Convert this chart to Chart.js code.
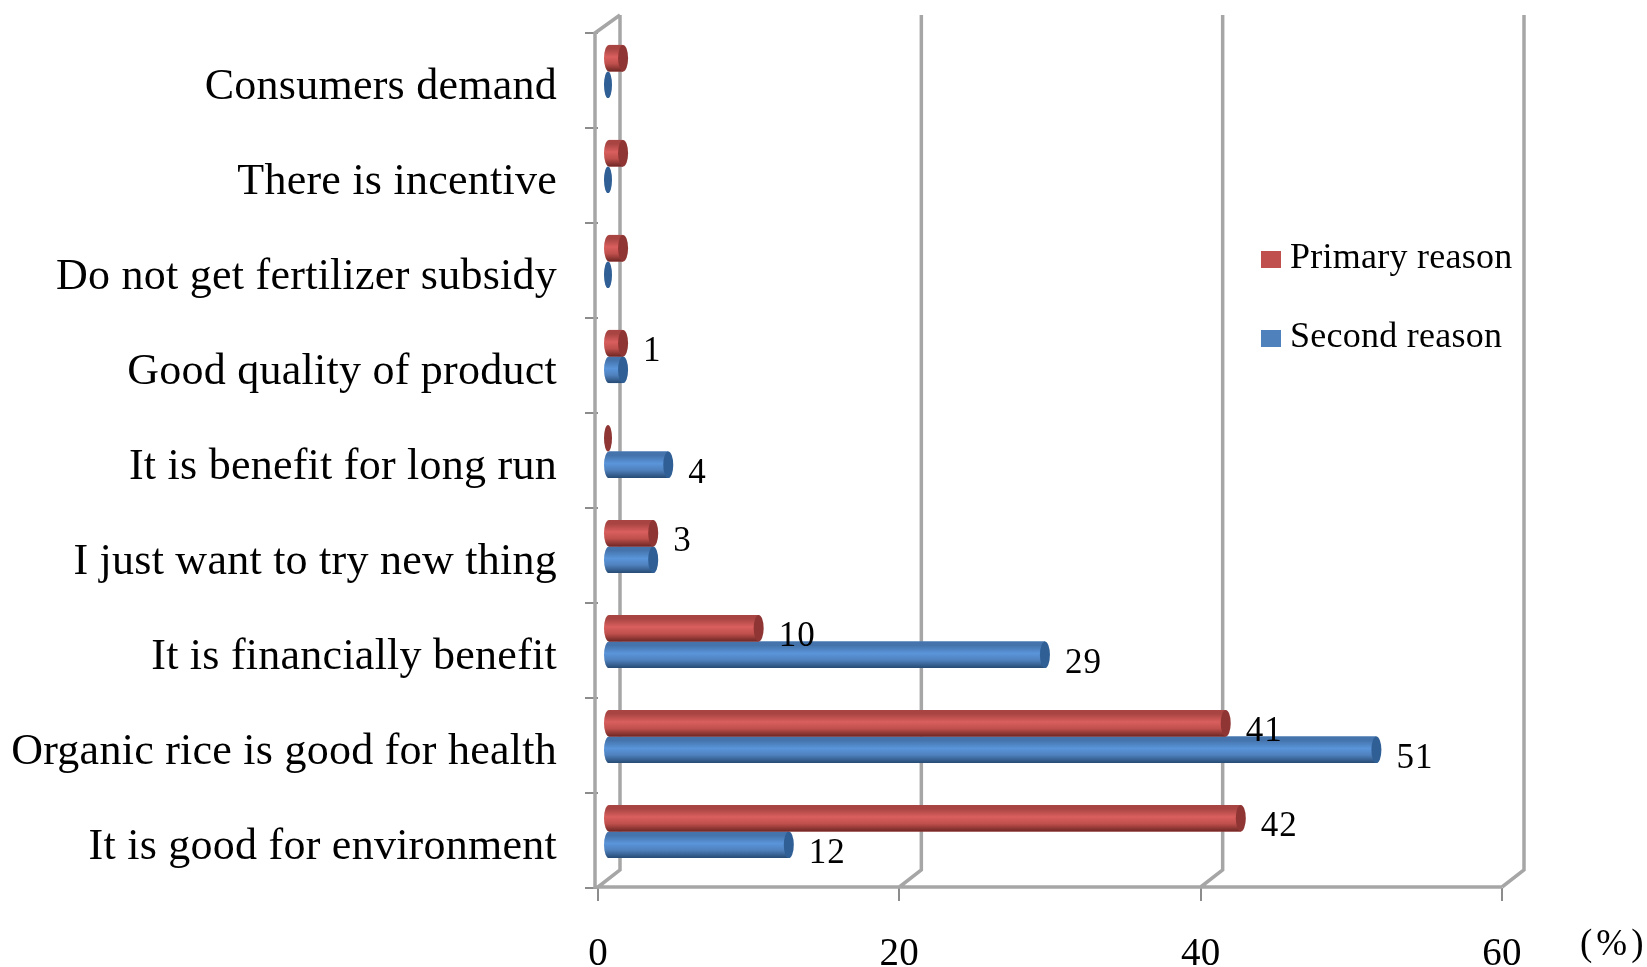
<!DOCTYPE html>
<html>
<head>
<meta charset="utf-8">
<style>
html, body { margin: 0; padding: 0; background: #fff; }
#wrap { position: relative; width: 1647px; height: 967px; }
</style>
<script src="https://cdn.jsdelivr.net/npm/chart.js@4"></script>
</head>
<body>
<div id="wrap"><canvas id="chart" width="1647" height="967"></canvas></div>
<script>
const categories = [
  'Consumers demand', 'There is incentive', 'Do not get fertilizer subsidy',
  'Good quality of product', 'It is benefit for long run', 'I just want to try new thing',
  'It is financially benefit', 'Organic rice is good for health', 'It is good for environment'
];
const primaryReason = [1, 1, 1, 1, 0, 3, 10, 41, 42];
const secondReason = [0, 0, 0, 1, 4, 3, 29, 51, 12];
// Which bars carry a printed value
const primaryLabelled = [false, false, false, true, false, true, true, true, true];
const secondLabelled = [false, false, false, false, true, false, true, true, true];
const xTicks = [0, 20, 40, 60];
const unitLabel = '(%)';

const WALL = '#a6a6a6';
const TICK = '#8c8c8c';
const SERIF = '"Liberation Serif", "Times New Roman", serif';
// Oblique offset of the 3-D floor: bars sit half way back, walls at the rear
const DEPTH = { barX: 10, barY: -9, wallX: 22, wallY: -18 };

const palettes = [
  { base: '#c0504d', edge: '#a84543', light: '#d95f5d', dark: '#6e2724', cap: '#8f3634' },
  { base: '#4f81bd', edge: '#4574ad', light: '#5a95da', dark: '#264a73', cap: '#2f5f95' }
];

// Square legend swatch, painted so the label can sit closer than the default gap
function swatch(color) {
  const c = document.createElement('canvas');
  c.width = 20; c.height = 17;
  const g = c.getContext('2d');
  g.fillStyle = color;
  g.fillRect(0, 0, 20, 17);
  return c;
}

const threeDWalls = {
  id: 'threeDWalls',
  beforeDraw(chart) {
    // Axis and legend labels are set slightly open
    chart.ctx.letterSpacing = '0.25px';
  },
  beforeDatasetsDraw(chart) {
    const { ctx, scales: { x, y } } = chart;
    const bottom = y.bottom, top = y.top;
    ctx.save();
    ctx.strokeStyle = WALL;
    ctx.lineWidth = 3.5;
    ctx.beginPath();
    xTicks.forEach(v => {
      const px = x.getPixelForValue(v);
      // rear gridline and the floor diagonal leading to it
      ctx.moveTo(px, bottom - 1);
      ctx.lineTo(px + DEPTH.wallX, bottom + DEPTH.wallY);
      ctx.lineTo(px + DEPTH.wallX, top + DEPTH.wallY);
    });
    const x0 = x.getPixelForValue(0);
    // front left wall edge, top diagonal and floor edge
    ctx.moveTo(x0 + DEPTH.wallX, top + DEPTH.wallY);
    ctx.lineTo(x0 - 3, top);
    ctx.lineTo(x0 - 3, bottom - 1);
    ctx.lineTo(x.getPixelForValue(60), bottom - 1);
    ctx.stroke();
    ctx.restore();
  },
  afterDraw(chart) {
    const { ctx } = chart;
    ctx.save();
    ctx.font = '37px ' + SERIF;
    ctx.letterSpacing = '4px';
    ctx.fillStyle = '#000';
    ctx.textAlign = 'left';
    ctx.textBaseline = 'middle';
    ctx.fillText(unitLabel, 1580, 945);
    ctx.restore();
  }
};

const cylinderBars = {
  id: 'cylinderBars',
  beforeDatasetsDraw(chart) {
    chart.ctx.save();
    chart.ctx.translate(DEPTH.barX, DEPTH.barY);
  },
  afterDatasetDraw(chart, args) {
    const { ctx } = chart;
    const pal = palettes[args.index];
    chart.getDatasetMeta(args.index).data.forEach(bar => {
      const h = bar.height, yt = bar.y - h / 2, yb = bar.y + h / 2;
      const left = Math.min(bar.base, bar.x), right = Math.max(bar.base, bar.x);
      const g = ctx.createLinearGradient(0, yt, 0, yb);
      g.addColorStop(0, pal.edge);
      g.addColorStop(0.15, pal.edge);
      g.addColorStop(0.45, pal.light);
      g.addColorStop(0.7, pal.base);
      g.addColorStop(1, pal.dark);
      if (right - left < 0.5) {
        // a zero share shows only as the flat end of the cylinder
        ctx.fillStyle = pal.cap;
        ctx.beginPath();
        ctx.ellipse(left, bar.y, 4, h / 2, 0, 0, Math.PI * 2);
        ctx.fill();
        return;
      }
      ctx.fillStyle = g;
      ctx.beginPath();
      ctx.ellipse(left, bar.y, 5, h / 2, 0, Math.PI / 2, Math.PI * 1.5);
      ctx.lineTo(right, yt);
      ctx.lineTo(right, yb);
      ctx.closePath();
      ctx.fill();
      ctx.fillStyle = pal.cap;
      ctx.beginPath();
      ctx.ellipse(right, bar.y, 5, h / 2, 0, 0, Math.PI * 2);
      ctx.fill();
    });
  },
  afterDatasetsDraw(chart) {
    const { ctx } = chart;
    ctx.font = '35px ' + SERIF;
    ctx.letterSpacing = '1px';
    ctx.fillStyle = '#000';
    ctx.textAlign = 'left';
    ctx.textBaseline = 'middle';
    [primaryLabelled, secondLabelled].forEach((shown, ds) => {
      const meta = chart.getDatasetMeta(ds);
      shown.forEach((on, i) => {
        if (!on) return;
        const bar = meta.data[i];
        const value = chart.data.datasets[ds].data[i];
        ctx.fillText(String(value), bar.x + 20, bar.y + 9);
      });
    });
    ctx.restore();
  }
};

// Sets the legend down inside the plot, in the open space on the right
const legendPlacement = {
  id: 'legendPlacement',
  afterLayout(chart) {
    const lg = chart.legend;
    const w = lg.width, h = lg.height;
    lg.left = 1227; lg.right = 1227 + w;
    lg.top = 198; lg.bottom = 198 + h;
  }
};

new Chart(document.getElementById('chart'), {
  type: 'bar',
  data: {
    labels: categories,
    datasets: [
      { label: 'Primary reason', data: primaryReason, backgroundColor: palettes[0].base, clip: false,
        barPercentage: 1, categoryPercentage: 0.56 },
      { label: 'Second reason', data: secondReason, backgroundColor: palettes[1].base, clip: false,
        barPercentage: 1, categoryPercentage: 0.56 }
    ]
  },
  options: {
    indexAxis: 'y',
    responsive: false,
    animation: false,
    layout: { padding: { top: 33, right: 145, bottom: 0, left: 0 } },
    plugins: {
      title: { display: false },
      tooltip: { enabled: false },
      legend: {
        position: 'chartArea',
        align: 'start',
        labels: {
          usePointStyle: true, boxWidth: 2, boxHeight: 17, padding: 43,
          color: '#000',
          font: { family: SERIF, size: 36 },
          generateLabels(chart) {
            return Chart.defaults.plugins.legend.labels.generateLabels(chart).map((item, i) =>
              Object.assign(item, { pointStyle: swatch(palettes[i].base) }));
          }
        }
      }
    },
    scales: {
      x: {
        type: 'linear', min: 0, max: 60,
        afterFit(s) { s.height = 79; s.paddingLeft = 0; s.paddingRight = 0; },
        afterBuildTicks(s) { s.ticks = xTicks.map(value => ({ value })); },
        border: { display: false },
        grid: { drawOnChartArea: false, color: TICK, lineWidth: 2, tickLength: 13, tickWidth: 2 },
        ticks: { color: '#000', padding: 30, maxRotation: 0, font: { family: SERIF, size: 39 } }
      },
      y: {
        type: 'category', offset: true,
        afterFit(s) { s.width = 598; s.paddingTop = 0; s.paddingBottom = 0; },
        border: { display: false },
        grid: { offset: true, drawOnChartArea: false, color: TICK, lineWidth: 2, tickLength: 13, tickWidth: 2 },
        ticks: { color: '#000', padding: 28, labelOffset: 7, autoSkip: false, font: { family: SERIF, size: 44 } }
      }
    }
  },
  plugins: [threeDWalls, cylinderBars, legendPlacement]
});
</script>
</body>
</html>
